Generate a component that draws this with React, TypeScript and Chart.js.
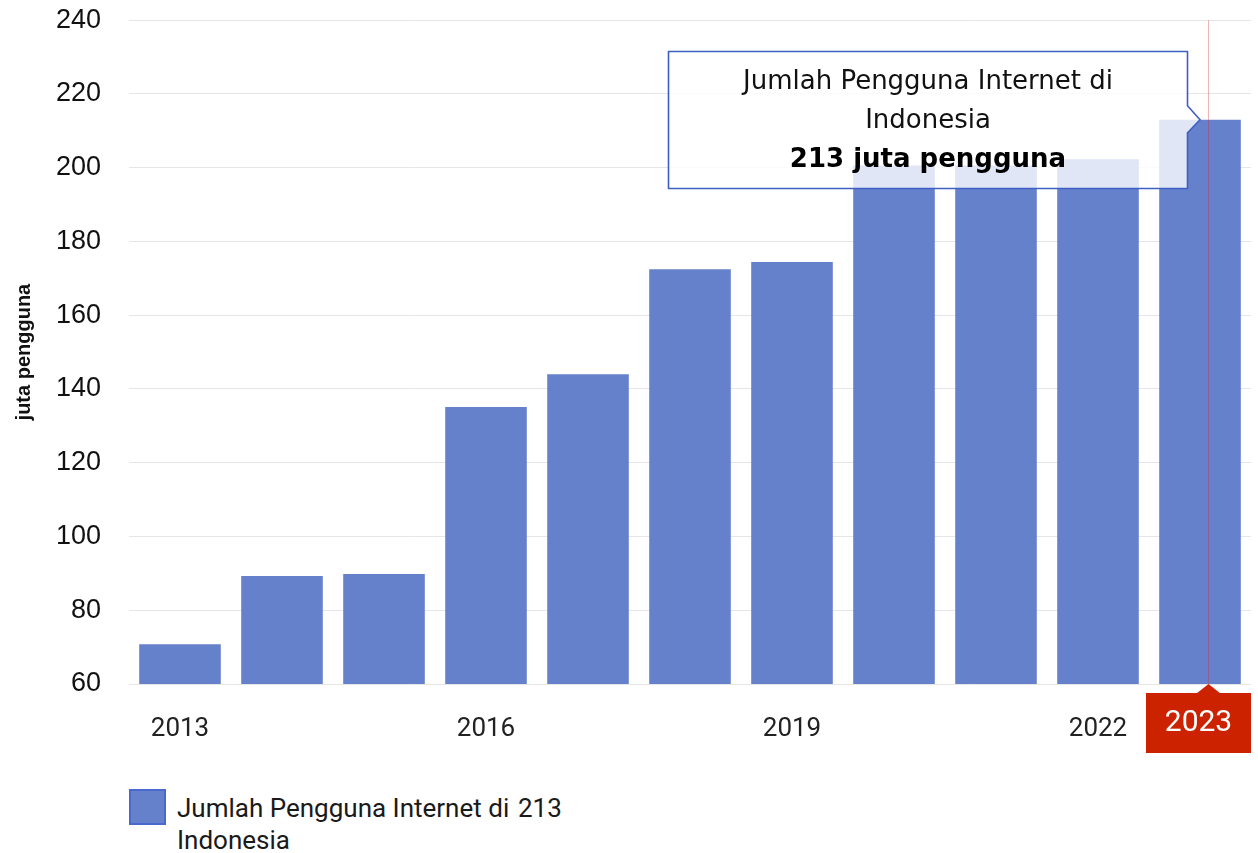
import React, { useEffect, useRef } from 'react';
import { Chart, registerables } from 'chart.js';

Chart.register(...registerables);

const years = ['2013', '2014', '2015', '2016', '2017', '2018', '2019', '2020', '2021', '2022', '2023'];
const users = [70.8, 89.3, 89.8, 135.1, 144.0, 172.5, 174.4, 200.6, 200.6, 202.3, 213];
const seriesName = 'Jumlah Pengguna Internet di Indonesia';
const unitLabel = 'juta pengguna';
const yMin = 60;
const yMax = 240;
const yStep = 20;
const labelEvery = 3;
const highlightIndex = 10;

const BAR_COLOR = '#6681cc';

function wrapText(ctx: CanvasRenderingContext2D, text: string, maxWidth: number): string[] {
  const words = text.split(' ');
  const lines: string[] = [];
  let cur = '';
  for (const w of words) {
    const test = cur ? cur + ' ' + w : w;
    if (ctx.measureText(test).width > maxWidth && cur) {
      lines.push(cur);
      cur = w;
    } else {
      cur = test;
    }
  }
  if (cur) lines.push(cur);
  return lines;
}

const overlayPlugin = {
  id: 'overlayPlugin',
  afterDatasetsDraw(chart: any) {
    const ctx: CanvasRenderingContext2D = chart.ctx;
    const bar = chart.getDatasetMeta(0).data[highlightIndex];
    const { top, bottom, right } = chart.chartArea;
    const bx = bar.x;
    const by = bar.y;
    const crossX = Math.round(bx + 8) + 0.5;

    ctx.save();
    // crosshair
    ctx.strokeStyle = 'rgba(215, 40, 40, 0.35)';
    ctx.lineWidth = 1;
    ctx.beginPath();
    ctx.moveTo(crossX, top);
    ctx.lineTo(crossX, bottom);
    ctx.stroke();

    // red x label
    const lw = 105;
    const lh = 60;
    const gap = 9;
    const lx = Math.min(crossX - lw / 2, right - lw);
    const ly = bottom + gap;
    ctx.fillStyle = '#cc2200';
    ctx.fillRect(lx, ly, lw, lh);
    ctx.beginPath();
    ctx.moveTo(crossX - 12, ly + 0.5);
    ctx.lineTo(crossX, bottom);
    ctx.lineTo(crossX + 12, ly + 0.5);
    ctx.closePath();
    ctx.fill();
    ctx.fillStyle = '#ffffff';
    ctx.font = '30px Roboto';
    ctx.textAlign = 'center';
    ctx.textBaseline = 'middle';
    ctx.fillText(years[highlightIndex], lx + lw / 2, ly + lh / 2);

    // tooltip
    const bw = 519;
    const bh = 137;
    const tipX = bx;
    const tipY = by;
    const boxR = Math.round(tipX - 13) + 0.5;
    const boxL = boxR - bw;
    const boxT = Math.round(tipY - bh / 2) + 0.5;
    const boxB = boxT + bh;
    ctx.beginPath();
    ctx.moveTo(boxL, boxT);
    ctx.lineTo(boxR, boxT);
    ctx.lineTo(boxR, tipY - 14);
    ctx.lineTo(tipX, tipY);
    ctx.lineTo(boxR, tipY + 13);
    ctx.lineTo(boxR, boxB);
    ctx.lineTo(boxL, boxB);
    ctx.closePath();
    ctx.fillStyle = 'rgba(255, 255, 255, 0.8)';
    ctx.fill();
    ctx.strokeStyle = '#3f5fc4';
    ctx.lineWidth = 1.6;
    ctx.stroke();

    const cx = (boxL + boxR) / 2;
    const cy = (boxT + boxB) / 2;
    ctx.fillStyle = '#111111';
    ctx.font = '26px "DejaVu Sans"';
    const titleLines = wrapText(ctx, seriesName, bw - 60);
    const valueLine = `${users[highlightIndex]} ${unitLabel}`;
    const allCount = titleLines.length + 1;
    const lineH = 39;
    const startY = cy - ((allCount - 1) * lineH) / 2 + 1;
    titleLines.forEach((t, i) => ctx.fillText(t, cx, startY + i * lineH));
    ctx.font = 'bold 26px "DejaVu Sans"';
    ctx.fillStyle = '#000000';
    ctx.fillText(valueLine, cx, startY + titleLines.length * lineH);
    ctx.restore();
  },
};

export default function App() {
  const canvasRef = useRef<HTMLCanvasElement | null>(null);

  useEffect(() => {
    if (!canvasRef.current) return;
    const chart = new Chart(canvasRef.current, {
      type: 'bar',
      data: {
        labels: years,
        datasets: [
          {
            label: seriesName,
            data: users,
            backgroundColor: BAR_COLOR,
            borderWidth: 0,
            barPercentage: 0.8,
            categoryPercentage: 1,
          },
        ],
      },
      options: {
        responsive: false,
        animation: false,
        events: [],
        devicePixelRatio: 1,
        layout: { padding: { top: 20, right: 7, bottom: 0, left: 0 } },
        plugins: {
          legend: { display: false },
          tooltip: { enabled: false },
        },
        scales: {
          x: {
            grid: { display: false },
            border: { display: false },
            ticks: {
              autoSkip: false,
              maxRotation: 0,
              padding: 22,
              color: '#222222',
              font: { family: 'Roboto', size: 26 },
              callback: (_v: any, index: number) =>
                index % labelEvery === 0 && index !== highlightIndex ? years[index] : '',
            },
            afterFit: (scale: any) => {
              scale.height = 86;
            },
          },
          y: {
            min: yMin,
            max: yMax,
            grid: { color: '#e6e6e6', lineWidth: 1, drawTicks: false },
            border: { display: false },
            ticks: {
              stepSize: yStep,
              padding: 28,
              color: '#111111',
              font: { family: 'Liberation Sans', size: 27 },
            },
            title: {
              display: true,
              text: unitLabel,
              color: '#111111',
              font: { family: 'Liberation Sans', size: 20, weight: 'bold' },
              padding: { top: 12, bottom: 0 },
            },
            afterFit: (scale: any) => {
              scale.width = 129;
            },
          },
        },
      },
      plugins: [overlayPlugin],
    } as any);
    return () => chart.destroy();
  }, []);

  const legendName = seriesName;
  return (
    <div style={{ position: 'absolute', left: 0, top: 0, width: 1258, height: 853, background: '#fff', overflow: 'hidden' }}>
      <canvas
        ref={canvasRef}
        width={1258}
        height={794}
        style={{ position: 'absolute', left: 0, top: -24, display: 'block', width: 1258, height: 794 }}
      />
      <div
        style={{
          position: 'absolute',
          left: 129,
          top: 789,
          width: 33,
          height: 32,
          background: BAR_COLOR,
          border: '2px solid #4a69cf',
        }}
      />
      <div
        style={{
          position: 'absolute',
          left: 177,
          top: 792,
          display: 'flex',
          fontFamily: 'Roboto',
          fontSize: 26,
          lineHeight: '32px',
          color: '#1a1a1a',
        }}
      >
        <div style={{ width: 336 }}>{legendName}</div>
        <div style={{ marginLeft: 5 }}>{users[highlightIndex]}</div>
      </div>
    </div>
  );
}
